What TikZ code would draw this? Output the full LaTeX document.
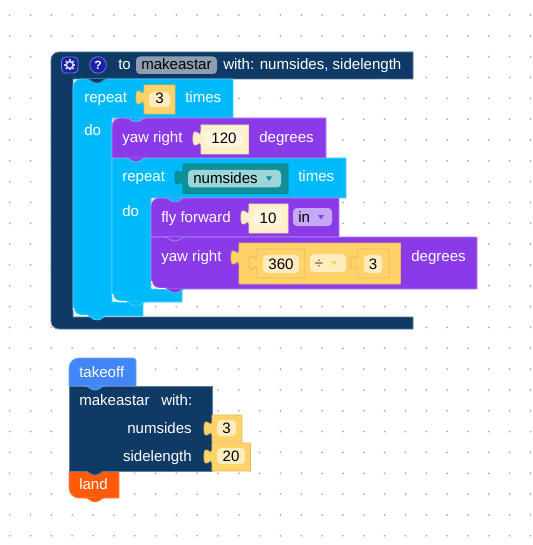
\documentclass[tikz,border=0pt]{standalone}
\usepackage{fontspec}
\setmainfont{Liberation Sans}
\definecolor{dkb}{HTML}{0F3A66}
\definecolor{dke}{HTML}{5C7C9C}
\definecolor{cyb}{HTML}{00BAFC}
\definecolor{cye}{HTML}{55D0FF}
\definecolor{pur}{HTML}{8A3AE8}
\definecolor{pue}{HTML}{B088EE}
\definecolor{tko}{HTML}{4285F4}
\definecolor{tke}{HTML}{6FA3F7}
\definecolor{org}{HTML}{FF5A07}
\definecolor{ore}{HTML}{FF8A50}
\definecolor{yel}{HTML}{FFD26A}
\definecolor{yee}{HTML}{E6BA55}
\definecolor{yef}{HTML}{FFEDC0}
\definecolor{shd}{HTML}{FFF0CC}
\definecolor{she}{HTML}{F3DDA6}
\definecolor{shf}{HTML}{FFF6E0}
\definecolor{tea}{HTML}{0F8F98}
\definecolor{tef}{HTML}{9DD6D8}
\definecolor{grf}{HTML}{8E9EB0}
\definecolor{icn}{HTML}{1B22A6}
\definecolor{icl}{HTML}{6F7FD0}
\definecolor{duf}{HTML}{C5A8F6}
\tikzset{
  x=0.75pt,y=-0.75pt,
  lbl/.style={anchor=base west,inner sep=0pt,text=white,font=\fontsize{11.3pt}{13pt}\selectfont},
  lblr/.style={lbl,anchor=base east},
  val/.style={anchor=base,inner sep=0pt,text=black,font=\fontsize{11.3pt}{13pt}\selectfont},
  dark/.style={fill=dkb,draw=dke,line width=.6pt},
  cyan/.style={fill=cyb,draw=cye,line width=.6pt},
  purp/.style={fill=pur,draw=pue,line width=.6pt},
  yval/.style={fill=yel,draw=yee,line width=.6pt},
  sval/.style={fill=shd,draw=she,line width=.6pt},
  tval/.style={fill=tea,draw=tea!92!black,line width=.6pt},
  hilite/.style={draw=white,line width=1pt},
}
% value block with a left tab: style, x0,y0,x1,y1, top of tab
\newcommand{\valblk}[6]{%
  \path[#1] (#2,#3) -- (#4,#3) -- (#4,#5) -- (#2,#5) -- (#2,{#6+15})
    .. controls (#2,{#6+5}) and ({#2-8},{#6+23}) .. ({#2-8},{#6+7.5})
    .. controls ({#2-8},{#6-8}) and (#2,{#6+10}) .. (#2,#6) -- cycle;}
% bump hanging below a block: fill, edge, centre x, y
\newcommand{\bump}[4]{%
  \fill[#1] ({#3-10},#4) .. controls ({#3-6},#4) and ({#3-5},{#4+4}) .. (#3,{#4+4})
    .. controls ({#3+5},{#4+4}) and ({#3+6},#4) .. ({#3+10},#4) -- cycle;
  \draw[#2,line width=.5pt] ({#3-10},#4) .. controls ({#3-6},#4) and ({#3-5},{#4+4}) .. (#3,{#4+4})
    .. controls ({#3+5},{#4+4}) and ({#3+6},#4) .. ({#3+10},#4);}
% field: colour, x0,y0,x1,y1
\newcommand{\fld}[5]{\fill[#1,rounded corners=3pt] (#2,#3) rectangle (#4,#5);}
% small drop-down triangle: colour, centre x, centre y
\newcommand{\dtri}[3]{\fill[#1] ({#2-3},{#3-2}) -- ({#2+3},{#3-2}) -- (#2,{#3+2.5}) -- cycle;}
\begin{document}
\begin{tikzpicture}
\useasboundingbox (0,0) rectangle (532,545);
\fill[white] (0,0) rectangle (532,545);
\foreach \i in {0,...,25}{\foreach \j in {0,...,25}{
  \fill[black!33] ({9.7+20.83*\i},{15+20.83*\j}) circle (.75pt);}}

% procedure definition
\path[dark] (59,52) -- (413,52) -- (413,79) -- (73,79) -- (73,317) -- (413,317) -- (413,329) -- (59,329)
  .. controls (54.6,329) and (51,325.4) .. (51,321) -- (51,60)
  .. controls (51,55.6) and (54.6,52) .. (59,52) -- cycle;
% outer repeat
\path[cyan] (81,79) -- (233,79) -- (233,118) -- (112,118) -- (112,302) -- (143,302) -- (143,316) -- (81,316)
  .. controls (76.6,316) and (73,312.4) .. (73,308) -- (73,87)
  .. controls (73,82.6) and (76.6,79) .. (81,79) -- cycle;
\draw[hilite] (73.5,308) .. controls (73.5,312.4) and (77,315.5) .. (81,315.5) -- (88,315.5);
\bump{dkb}{dke}{97}{79}
% inner repeat
\path[cyan] (112,158) -- (346,158) -- (346,198) -- (151,198) -- (151,289) -- (182,289) -- (182,302) -- (120,302)
  .. controls (115.6,302) and (112,298.4) .. (112,294) -- cycle;
\draw[hilite] (112.5,294) .. controls (112.5,298.4) and (116,301.5) .. (120,301.5) -- (127,301.5);
% yaw right 120
\path[purp] (120,118) -- (326,118) -- (326,158) -- (112,158) -- (112,126)
  .. controls (112,121.6) and (115.6,118) .. (120,118) -- cycle;
\bump{cyb}{pue}{136}{118}
\bump{pur}{cye}{136}{158}
% fly forward
\path[purp] (159,198) -- (339,198) -- (339,237) -- (151,237) -- (151,206)
  .. controls (151,201.6) and (154.6,198) .. (159,198) -- cycle;
\bump{cyb}{pue}{175}{198}
% yaw right expression
\path[purp] (151,237) -- (477,237) -- (477,289) -- (159,289)
  .. controls (154.6,289) and (151,285.4) .. (151,281) -- cycle;
\draw[hilite] (151.5,281) .. controls (151.5,285.4) and (155,288.5) .. (159,288.5) -- (166,288.5);
\bump{pur}{pue}{175}{237}
\bump{pur}{cye}{175}{289}
\bump{cyb}{cye}{136}{302}
\bump{cyb}{cye}{97}{316}

% header
\draw[fill=icn,draw=icl,line width=.6pt,rounded corners=3pt] (61.5,57) rectangle (78,73);
\foreach \a in {0,45,...,315}{\draw[white!80!icn,line width=1.3pt] ({69.75+3*cos(\a)},{65+3*sin(\a)}) -- ({69.75+5.5*cos(\a)},{65+5.5*sin(\a)});}
\draw[white!80!icn,line width=1.2pt] (69.75,65) circle (2.6pt);
\node[circle,fill=icn,draw=icl,line width=.6pt,minimum size=12.4pt,inner sep=0pt,text=white,font=\bfseries\fontsize{9pt}{10pt}\selectfont] (help) at (98,65) {?};
\node[lbl] (to) at (118,70) {to};
\fld{grf}{136}{56.5}{217}{74}
\node[lbl,text=black] (name) at (141,70) {makeastar};
\node[lbl] (with) at (223,70) {with: numsides, sidelength};

% repeat 3
\node[lbl] (rep1) at (84,103) {repeat};
\valblk{yval}{144}{85}{175}{114}{90}
\fld{yef}{149}{92}{170}{107}
\node[val] (n3) at (159.5,104) {3};
\node[lbl] (times1) at (185,103) {times};
\node[lbl] (do1) at (84,136) {do};

% yaw right 120
\node[lbl] (yaw1) at (122,143) {yaw right};
\valblk{sval}{201}{125}{248.5}{154}{131}
\fld{shf}{206}{130}{242}{146}
\node[val] (n120) at (224,144) {120};
\node[lbl] (deg1) at (259,143) {degrees};

% inner repeat
\node[lbl] (rep2) at (122,182) {repeat};
\valblk{tval}{183}{164}{288}{193.5}{170}
\fld{tef}{188}{170}{281}{187.5}
\node[lbl,text=black] (nsides) at (193,183.5) {numsides};
\dtri{tea}{269}{178.5}
\node[lbl] (times2) at (298,182) {times};
\node[lbl] (do2) at (122,216) {do};

% fly forward
\node[lbl] (fly) at (161,222) {fly forward};
\valblk{sval}{249}{204}{288}{233}{210}
\fld{shf}{254}{209}{282}{225}
\node[val] (n10) at (268,223) {10};
\fld{duf}{293}{208}{332}{226}
\node[lbl,text=black] (unit) at (298,222) {in};
\dtri{pur}{321}{217}

% yaw right with expression
\node[lbl] (yaw2) at (161,261) {yaw right};
\valblk{yval}{239}{243}{400.5}{284}{250}
\valblk{fill=yel,draw=yee,line width=.6pt}{257}{249}{305}{278}{255}
\fld{yef}{263}{255}{299}{273}
\node[val] (n360) at (281,269) {360};
\fld{yef}{310}{254}{346}{272}
\node[val,text=black!75] (op) at (319,268) {÷};
\dtri{yel}{334}{263}
\valblk{fill=yel,draw=yee,line width=.6pt}{358}{249}{389}{278}{255}
\fld{yef}{364}{255}{382}{273}
\node[val] (n3b) at (373,269) {3};
\node[lbl] (deg2) at (411,261) {degrees};

% call stack
\path[fill=tko,draw=tke,line width=.6pt] (79,358) -- (133,358) .. controls (134.7,358) and (136,359.3) .. (136,361) -- (136,386) -- (69,386) -- (69,368)
  .. controls (69,362.5) and (73.5,358) .. (79,358) -- cycle;
\path[fill=org,draw=ore,line width=.6pt] (69,471) -- (119,471) -- (119,498) -- (79,498)
  .. controls (73.5,498) and (69,493.5) .. (69,488) -- cycle;
\bump{org}{ore}{95}{498}
\path[dark] (69,386) -- (212,386) -- (212,471) -- (69,471) -- cycle;
\bump{tko}{tke}{95}{386}
\bump{dkb}{dke}{95}{471}
\node[lbl] (takeoff) at (79,377) {takeoff};
\node[lbl] (call) at (79,405) {makeastar};
\node[lbl] (with2) at (161,405) {with:};
\node[lblr] (p1) at (192,433) {numsides};
\node[lblr] (p2) at (192,461) {sidelength};
\valblk{yval}{212}{415}{242}{442}{421}
\fld{yef}{217}{420}{236}{436}
\node[val] (v3) at (226.5,433) {3};
\valblk{yval}{212}{443}{250.5}{471}{449}
\fld{yef}{217}{448}{245}{464}
\node[val] (v20) at (231,461) {20};
\node[lbl] (land) at (79,489) {land};
\end{tikzpicture}
\end{document}
